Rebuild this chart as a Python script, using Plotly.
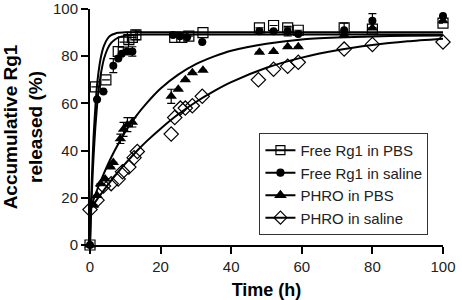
import plotly.graph_objects as go

# ---- measured points ----
free_pbs_t = [0, 1.5, 4.5, 8, 9.5, 11, 12, 13, 24, 26, 28, 32, 48, 52, 56, 59, 72, 80, 100]
free_pbs_y = [0, 67, 70, 82, 86, 87, 88, 89, 88, 88, 88.5, 90, 92, 93, 92, 91, 92, 91.5, 94]
free_pbs_e = [0, 0, 0, 2, 0, 2, 0, 2, 0, 0, 0, 0, 0, 0, 0, 0, 2, 0, 0]

free_sal_t = [0, 2, 3.8, 6.6, 8, 9, 10.5, 12, 23.5, 25.5, 27.5, 31.8, 48, 52, 56, 59, 72, 80, 100]
free_sal_y = [0, 61.7, 65, 76, 79, 81, 82, 82, 89, 88.5, 88, 86, 90.6, 90.6, 90.6, 89.4, 91, 95, 97]
free_sal_e = [0, 0, 0, 3, 0, 0, 0, 2, 0, 0, 0, 0, 0, 0, 2, 0, 0, 3, 0]

phro_pbs_t = [0, 1, 2, 3, 4.3, 5.8, 6.6, 8.6, 9.5, 10.6, 12, 23, 25, 27, 29, 32, 48, 52, 56, 59, 72, 80, 100]
phro_pbs_y = [0, 17, 21, 26, 28, 33, 35, 45, 49, 51, 52, 63, 66, 70, 73, 74, 81.7, 82, 84, 84, 89, 92, 95]
phro_pbs_e = [0, 0, 0, 0, 0, 0, 0, 2, 3, 3, 2, 3, 0, 0, 0, 0, 0, 0, 0, 0, 0, 0, 0]

phro_sal_t = [0, 2, 3.8, 6, 8, 9.2, 11, 12.5, 13.4, 23, 24, 25.6, 27, 29, 31.8, 47.7, 52, 56, 59, 72, 80, 100]
phro_sal_y = [15, 19, 25, 26, 28, 31, 33, 37, 39.6, 47, 54, 58, 58, 59, 63, 70, 74.5, 75.7, 77.4, 83, 85, 86]

# ---- fitted curves ----
fit_t_fast = [0, 0.25, 0.5, 0.75, 1, 1.5, 2, 2.5, 3, 3.5, 4, 5, 6, 7, 8, 10, 12, 15, 20, 40, 60, 80, 100]
fit_free_pbs = [0, 14.7, 26.9, 36.8, 45.5, 58.0, 67.8, 74.2, 78.9, 82.3, 84.6, 87.5, 88.9, 89.5, 89.9, 90.1, 90.2, 90.2, 90.2, 90.2, 90.2, 90.2, 90.2]
fit_free_sal = [0, 11.6, 21.4, 29.8, 37.3, 49.6, 59.0, 66.4, 71.8, 75.9, 79.1, 83.2, 85.6, 87.0, 87.9, 88.7, 89.0, 89.2, 89.2, 89.2, 89.2, 89.2, 89.2]

fit_t_slow = [0, 2, 4, 6, 8, 10, 13, 16, 20, 25, 30, 35, 40, 50, 60, 70, 80, 90, 100]
fit_phro_pbs = [15, 23.3, 30.6, 37.1, 42.8, 48.0, 54.5, 60.0, 66.3, 72.2, 76.6, 79.8, 82.3, 85.3, 87.1, 87.9, 88.4, 88.7, 88.8]
fit_phro_sal = [15, 19.3, 23.4, 27.3, 31.0, 34.5, 39.4, 43.9, 49.3, 55.4, 60.6, 65.1, 69.0, 75.1, 79.4, 82.5, 84.7, 86.3, 87.4]

x_ticks = [0, 20, 40, 60, 80, 100]
y_ticks = [0, 20, 40, 60, 80, 100]

fig = go.Figure()

def add_fit(t, y):
    fig.add_trace(go.Scatter(x=t, y=y, mode="lines", line=dict(color="black", width=2, shape="spline", smoothing=0.6),
                             showlegend=False, hoverinfo="skip", cliponaxis=False))

add_fit(fit_t_fast, fit_free_pbs)
add_fit(fit_t_fast, fit_free_sal)
add_fit(fit_t_slow, fit_phro_pbs)
add_fit(fit_t_slow, fit_phro_sal)

def err(arr):
    return dict(type="data", array=arr, visible=True, color="black", thickness=1.2, width=4)

fig.add_trace(go.Scatter(x=phro_sal_t, y=phro_sal_y, mode="markers", name="PHRO in saline",
                         marker=dict(symbol="diamond-open", size=11, color="black", line=dict(width=1.2)),
                         cliponaxis=False, showlegend=False))
fig.add_trace(go.Scatter(x=phro_pbs_t, y=phro_pbs_y, mode="markers", name="PHRO in PBS",
                         marker=dict(symbol="triangle-up", size=10, color="black"),
                         error_y=err(phro_pbs_e), cliponaxis=False, showlegend=False))
fig.add_trace(go.Scatter(x=free_sal_t, y=free_sal_y, mode="markers", name="Free Rg1 in saline",
                         marker=dict(symbol="circle", size=8, color="black"),
                         error_y=err(free_sal_e), cliponaxis=False, showlegend=False))
fig.add_trace(go.Scatter(x=free_pbs_t, y=free_pbs_y, mode="markers", name="Free Rg1 in PBS",
                         marker=dict(symbol="square-open", size=10, color="black", line=dict(width=1.2)),
                         error_y=err(free_pbs_e), cliponaxis=False, showlegend=False))

legend_specs = [("Free Rg1 in PBS", "square-open", 9), ("Free Rg1 in saline", "circle", 7),
                ("PHRO in PBS", "triangle-up", 9), ("PHRO in saline", "diamond-open", 10)]
for i, (nm, sym, sz) in enumerate(legend_specs):
    fig.add_trace(go.Scatter(x=[None], y=[None], mode="lines+markers", name=nm,
                             line=dict(color="black", width=2),
                             marker=dict(symbol=sym, size=sz, color="black", line=dict(width=1.2, color="black")),
                             legendrank=i + 1))

axis_common = dict(showline=True, linecolor="black", linewidth=2, ticks="outside", ticklen=7,
                   tickwidth=2, tickcolor="black", showgrid=False, zeroline=False, automargin=False,
                   tickfont=dict(family="Liberation Sans, Arial", size=15, color="#222"))

fig.update_layout(
    width=462, height=300,
    margin=dict(l=90, r=19, t=9, b=55),
    paper_bgcolor="white", plot_bgcolor="white",
    font=dict(family="Liberation Sans, Arial", color="black"),
    xaxis=dict(range=[0, 100], tickvals=x_ticks, **axis_common,
               title=dict(text="<b>Time (h)</b>", font=dict(size=18), standoff=10)),
    yaxis=dict(range=[0, 100], tickvals=y_ticks, **axis_common,
               title=dict(text="<b>Accumulative Rg1<br>released (%)</b>", font=dict(size=19), standoff=12)),
    legend=dict(x=0.48, y=0.475, xanchor="left", yanchor="top", bgcolor="white",
                bordercolor="#333", borderwidth=1, font=dict(size=15, color="#222"),
                tracegroupgap=0, itemwidth=30),
    showlegend=True,
)

fig.write_html("out.html")
